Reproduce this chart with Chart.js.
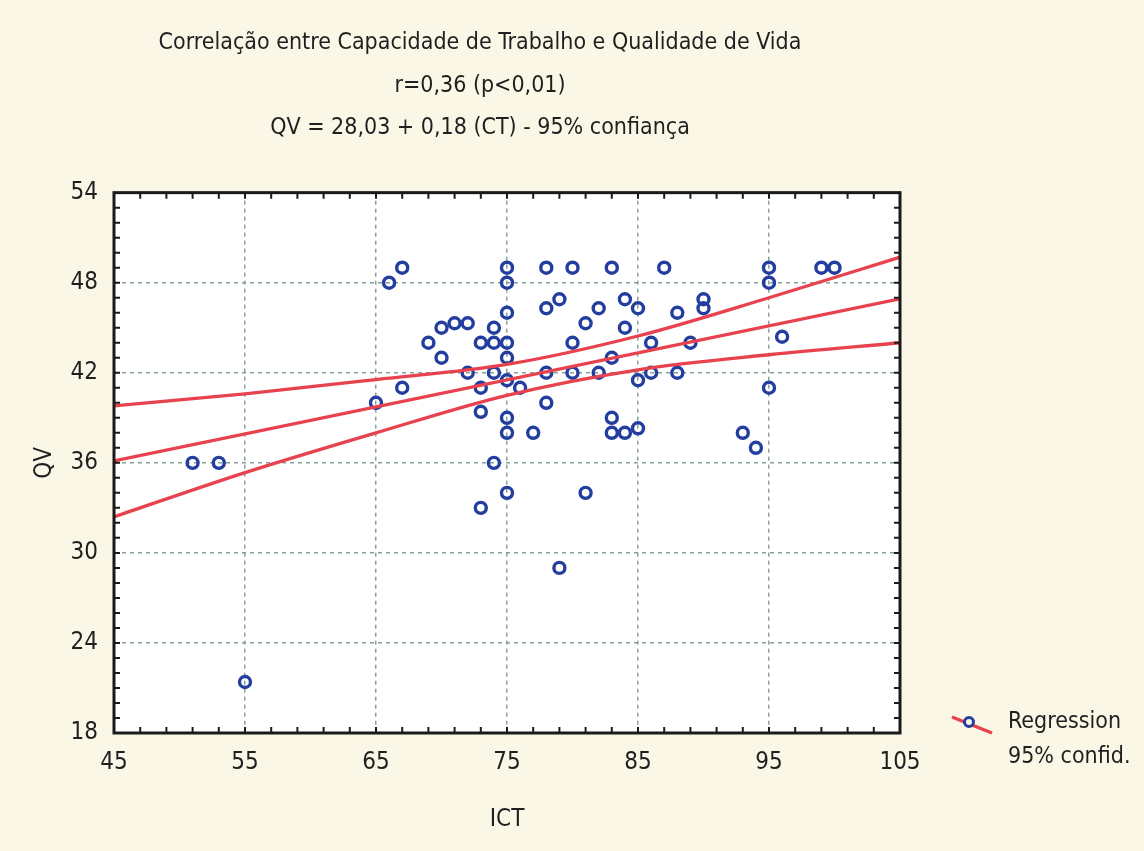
<!DOCTYPE html>
<html>
<head>
<meta charset="utf-8">
<script src="https://cdn.jsdelivr.net/npm/chart.js@4"></script>
<style>
  body { margin: 0; background: #fbf7e6; }
  #wrap { width: 1144px; height: 851px; position: relative; }
</style>
</head>
<body>
<div id="wrap"><canvas id="grafico"></canvas></div>
<script>
// titulo
const tituloLinhas = [
  "Correlação entre Capacidade de Trabalho e Qualidade de Vida",
  "r=0,36 (p<0,01)",
  "QV = 28,03 + 0,18 (CT) - 95% confiança"
];

// pontos (ICT x QV)
const ict = [51, 53, 55, 65, 66, 67, 67, 69, 70, 70, 71, 72, 72, 73, 73, 73, 73, 74, 74, 74, 74,
  75, 75, 75, 75, 75, 75, 75, 75, 75, 76, 77, 78, 78, 78, 78, 79, 79, 80, 80, 80, 81, 81,
  82, 82, 83, 83, 83, 83, 84, 84, 84, 85, 85, 85, 86, 86, 87, 88, 88, 89, 90, 90,
  93, 94, 95, 95, 95, 96, 99, 100];
const qv = [36, 36, 21.4, 40, 48, 49, 41, 44, 45, 43, 45.3, 45.3, 42, 44, 41, 39.4, 33, 45, 44, 42, 36,
  49, 48, 46, 44, 43, 41.5, 39, 38, 34, 41, 38, 49, 46.3, 42, 40, 46.9, 29, 49, 44, 42, 45.3, 34,
  46.3, 42, 49, 43, 39, 38, 46.9, 45, 38, 46.3, 41.5, 38.3, 44, 42, 49, 46, 42, 44, 46.9, 46.3,
  38, 37, 49, 48, 41, 44.4, 49, 49];

// reta de regressao e faixa de 95%
const retaX = [45, 105];
const retaY = [36.13, 46.93];
const faixaX = [45, 55, 65, 75, 85, 95, 105];
const faixaSup = [39.8, 40.6, 41.55, 42.56, 44.45, 47.0, 49.7];
const faixaInf = [32.4, 35.35, 38.0, 40.5, 42.2, 43.2, 44.0];

// eixos
const xTicks = [45, 55, 65, 75, 85, 95, 105];
const yTicks = [18, 24, 30, 36, 42, 48, 54];
const legendaTextos = ["Regression", "95% confid."];

const fonte = "'Liberation Sans Narrow', 'DejaVu Sans Condensed', Arial, sans-serif";
const azul = "#233e9e";
const vermelho = "#e8424f";

const pts = (xs, ys) => xs.map((x, i) => ({ x: x, y: ys[i] }));

// fundo branco, moldura e marcas internas
const moldura = {
  id: "moldura",
  beforeDraw(chart) {
    const { ctx, chartArea: a } = chart;
    ctx.save();
    ctx.fillStyle = "#ffffff";
    ctx.fillRect(a.left, a.top, a.right - a.left, a.bottom - a.top);
    ctx.restore();
  },
  afterDraw(chart) {
    const { ctx, chartArea: a, scales } = chart;
    ctx.save();
    ctx.strokeStyle = "#1a1a1a";
    ctx.lineWidth = 2;
    for (let v = 47; v < 105; v += 2) {
      const px = scales.x.getPixelForValue(v);
      ctx.beginPath();
      ctx.moveTo(px, a.bottom); ctx.lineTo(px, a.bottom - 6);
      ctx.moveTo(px, a.top); ctx.lineTo(px, a.top + 6);
      ctx.stroke();
    }
    for (let v = 19; v < 54; v += 1) {
      const py = scales.y.getPixelForValue(v);
      ctx.beginPath();
      ctx.moveTo(a.left, py); ctx.lineTo(a.left + 6, py);
      ctx.moveTo(a.right, py); ctx.lineTo(a.right - 6, py);
      ctx.stroke();
    }
    ctx.lineWidth = 3;
    ctx.strokeRect(a.left, a.top, a.right - a.left, a.bottom - a.top);

    // legenda
    ctx.strokeStyle = vermelho;
    ctx.lineWidth = 3.2;
    ctx.beginPath();
    ctx.moveTo(952, 717); ctx.lineTo(992, 733);
    ctx.stroke();
    ctx.strokeStyle = azul;
    ctx.fillStyle = "#fbf7e6";
    ctx.lineWidth = 3;
    ctx.beginPath();
    ctx.arc(969, 722, 4.5, 0, Math.PI * 2);
    ctx.fill(); ctx.stroke();
    ctx.fillStyle = "#1f1f1f";
    ctx.font = "23px " + fonte;
    ctx.textBaseline = "middle";
    ctx.fillText(legendaTextos[0], 1008, 722);
    ctx.fillText(legendaTextos[1], 1008, 757);
    ctx.restore();
  }
};

const linhaCfg = {
  type: "line",
  borderColor: vermelho,
  borderWidth: 3.3,
  pointRadius: 0,
  fill: false,
  cubicInterpolationMode: "monotone"
};

new Chart(document.getElementById("grafico"), {
  type: "scatter",
  data: {
    datasets: [
      Object.assign({ label: "sup", data: pts(faixaX, faixaSup) }, linhaCfg),
      Object.assign({ label: "inf", data: pts(faixaX, faixaInf) }, linhaCfg),
      Object.assign({ label: "reta", data: pts(retaX, retaY) }, linhaCfg),
      {
        label: "QV",
        data: pts(ict, qv),
        pointStyle: "circle",
        pointRadius: 5.5,
        pointBorderWidth: 3.4,
        borderColor: azul,
        backgroundColor: "rgba(255,255,255,0)"
      }
    ]
  },
  options: {
    responsive: true,
    maintainAspectRatio: false,
    animation: false,
    layout: { padding: { left: 0, right: 184, top: 0, bottom: 0 } },
    plugins: {
      legend: { display: false },
      tooltip: { enabled: false },
      title: {
        display: true,
        text: tituloLinhas,
        color: "#1f1f1f",
        font: { family: fonte, size: 23, weight: "normal", lineHeight: 1.85 },
        padding: { top: 22, bottom: 43 }
      }
    },
    scales: {
      x: {
        type: "linear",
        min: 45, max: 105,
        afterBuildTicks: s => { s.ticks = xTicks.map(v => ({ value: v })); },
        afterFit: s => { s.height = 118; },
        grid: { color: "#87a09a", lineWidth: 1.5, drawTicks: false },
        border: { display: false, dash: [4, 4] },
        ticks: { color: "#1f1f1f", padding: 15, font: { family: fonte, size: 24 } },
        title: { display: true, text: "ICT", color: "#1f1f1f", padding: { top: 0, bottom: 17 },
          font: { family: fonte, size: 24 } }
      },
      y: {
        type: "linear",
        min: 18, max: 54,
        afterBuildTicks: s => { s.ticks = yTicks.map(v => ({ value: v })); },
        afterFit: s => { s.width = 114; },
        grid: { color: "#87a09a", lineWidth: 1.5, drawTicks: false },
        border: { display: false, dash: [4, 4] },
        ticks: { color: "#1f1f1f", padding: 16, font: { family: fonte, size: 24 } },
        title: { display: true, text: "QV", color: "#1f1f1f", padding: { top: 30, bottom: 0 },
          font: { family: fonte, size: 24 } }
      },
      y2: {
        type: "linear",
        position: "right",
        min: 18, max: 54,
        afterFit: s => { s.width = 60; },
        grid: { display: false },
        border: { display: false },
        ticks: { display: false }
      }
    }
  },
  plugins: [moldura]
});
</script>
</body>
</html>
